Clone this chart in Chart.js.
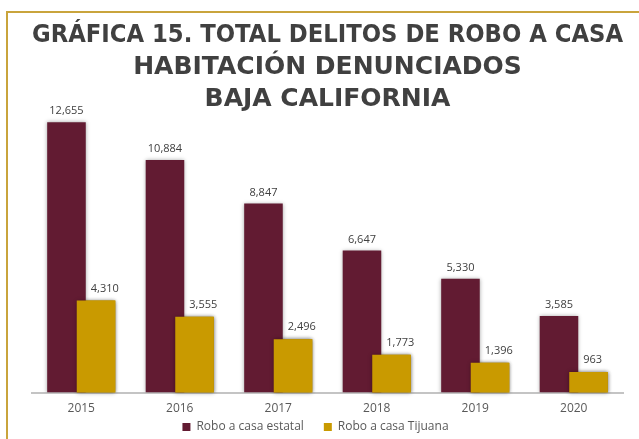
<!DOCTYPE html>
<html>
<head>
<meta charset="utf-8">
<script src="https://cdn.jsdelivr.net/npm/chart.js@4.4.1/dist/chart.umd.min.js"></script>
<style>
    html, body { margin: 0; padding: 0; width: 639px; height: 439px; overflow: hidden; background: #fff; }
    #marco { position: absolute; left: 6px; top: 11px; width: 700px; height: 500px; border: 2px solid #c9a43c; }
    #grafica { position: absolute; left: 0; top: 0; }
</style>
</head>
<body>
<div id="marco"></div>
<canvas id="grafica" width="655" height="439"></canvas>
<script>
var titulo = ['GRÁFICA 15. TOTAL DELITOS DE ROBO A CASA', 'HABITACIÓN DENUNCIADOS', 'BAJA CALIFORNIA'];
var anios = ['2015', '2016', '2017', '2018', '2019', '2020'];
var robo_estatal = [12655, 10884, 8847, 6647, 5330, 3585];
var robo_tijuana = [4310, 3555, 2496, 1773, 1396, 963];
var serie_estatal = 'Robo a casa estatal';
var serie_tijuana = 'Robo a casa Tijuana';

const fuente = 'Open Sans';

// dibuja las etiquetas de valor, la dorada se recorre si choca con la barra guinda
const etiquetas = {
    id: 'etiquetas',
    afterDatasetsDraw(chart) {
        const ctx = chart.ctx;
        const m0 = chart.getDatasetMeta(0);
        const m1 = chart.getDatasetMeta(1);
        ctx.save();
        ctx.font = '11px "' + fuente + '"';
        ctx.fillStyle = '#404040';
        ctx.textAlign = 'center';
        ctx.textBaseline = 'middle';
        m0.data.forEach(function (bar, i) {
            ctx.fillText(robo_estatal[i].toLocaleString('en-US'), bar.x, bar.y - 11);
        });
        m1.data.forEach(function (bar, i) {
            const txt = robo_tijuana[i].toLocaleString('en-US');
            const w = ctx.measureText(txt).width;
            const guinda = m0.data[i];
            const borde = guinda.x + guinda.width / 2 + 5 + w / 2;
            ctx.fillText(txt, Math.max(bar.x, borde), bar.y - 12);
        });
        ctx.restore();
    }
};

// sombra de las barras y la serie dorada encima de la guinda
const sombras = {
    id: 'sombras',
    beforeDatasetDraw(chart, args) {
        chart.ctx.save();
        chart.ctx.shadowColor = 'rgba(0,0,0,0.35)';
        chart.ctx.shadowBlur = 4;
    },
    afterDatasetDraw(chart, args) {
        chart.ctx.restore();
    },
    afterDatasetsDraw(chart) {
        const ctx = chart.ctx;
        ctx.save();
        ctx.shadowColor = 'rgba(0,0,0,0.35)';
        ctx.shadowBlur = 4;
        chart.getDatasetMeta(1).controller.draw();
        ctx.restore();
    }
};

// la leyenda del original no esta centrada con el titulo y va mas pegada al eje
const moverLeyenda = {
    id: 'moverLeyenda',
    afterLayout(chart) {
        chart.legend.left -= 12;
        chart.legend.right -= 12;
        chart.legend.top -= 24;
        chart.legend.bottom -= 24;
    }
};

new Chart(document.getElementById('grafica'), {
    type: 'bar',
    data: {
        labels: anios,
        datasets: [
            { label: serie_estatal, data: robo_estatal, backgroundColor: '#621b32', categoryPercentage: 0.6, barPercentage: 1.305 },
            { label: serie_tijuana, data: robo_tijuana, backgroundColor: '#c99a00', categoryPercentage: 0.6, barPercentage: 1.305 }
        ]
    },
    options: {
        responsive: false,
        animation: false,
        layout: { padding: { left: 32, right: 32, top: 0, bottom: -28 } },
        scales: {
            x: {
                grid: { display: false, drawTicks: false },
                border: { display: true, color: '#c4c4c4', width: 2 },
                ticks: { color: '#595959', padding: 9, font: { family: fuente, size: 12 } }
            },
            y: { display: false, min: 0, max: 14000 }
        },
        plugins: {
            title: {
                display: true,
                text: titulo,
                color: '#404040',
                font: { family: 'DejaVu Sans', size: 25, weight: 'bold', lineHeight: '32px' },
                padding: { top: 19.5, bottom: -22 }
            },
            legend: {
                position: 'bottom',
                labels: { boxWidth: 8, boxHeight: 8, padding: 20, color: '#595959', font: { family: fuente, size: 12 } }
            },
            tooltip: { enabled: false }
        }
    },
    plugins: [sombras, etiquetas, moverLeyenda]
});
</script>
</body>
</html>
